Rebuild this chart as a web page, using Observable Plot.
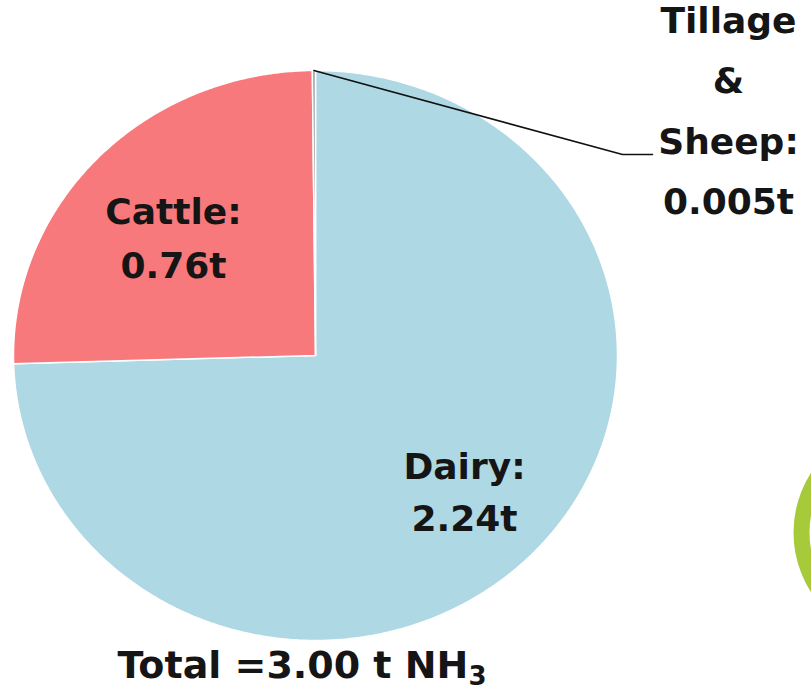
<!DOCTYPE html>
<html>
<head>
<meta charset="utf-8">
<script src="https://cdn.jsdelivr.net/npm/d3@7"></script>
<script src="https://cdn.jsdelivr.net/npm/@observablehq/plot@0.6"></script>
<style>
  html, body { margin: 0; padding: 0; background: #fff; overflow: hidden; }
  #chart svg { display: block; }
</style>
</head>
<body>
<div id="chart"></div>
<script>
// ---- data ----
const categories = ["Dairy", "Cattle", "Tillage & Sheep"];
const values = [2.24, 0.76, 0.005];
const valueLabels = ["2.24t", "0.76t", "0.005t"];
const sliceColors = ["#aed8e4", "#f8797c", "#a0a0a0"];
const totalLabel = "Total =3.00 t NH";
const totalSub = "3";

// ---- layout (pixels) ----
const W = 811, H = 693;
const pie = {cx: 315, cy: 355, rx: 302, ry: 285};
const font = "'DejaVu Sans', Verdana, sans-serif";
const labelPos = [
  {x: 464, y: 530, lh: 1.44},   // Dairy
  {x: 173, y: 277, lh: 1.5},    // Cattle
  {x: 728, y: 213, lh: 1.667}   // Tillage & Sheep
];
const leaderBend = [[622, 154], [652, 154]];
const ring = {x: 904, y: 532, r: 103, w: 16, color: "#a7ca3a"};

// ---- geometry from data ----
const arcs = d3.pie().sort(null).value(d => d)(values);
const pt = a => ({x: pie.cx + pie.rx * Math.sin(a), y: pie.cy - pie.ry * Math.cos(a)});
const slicePts = arcs.map((a, i) => {
  const pts = [{x: pie.cx, y: pie.cy, k: categories[i]}];
  const n = Math.max(2, Math.ceil((a.endAngle - a.startAngle) / (Math.PI / 360)));
  for (let j = 0; j <= n; j++) {
    const t = a.startAngle + (a.endAngle - a.startAngle) * j / n;
    pts.push({...pt(t), k: categories[i]});
  }
  pts.push({x: pie.cx, y: pie.cy, k: categories[i]});
  return pts;
});
const tillArc = arcs[2];
const leaderStart = pt((tillArc.startAngle + tillArc.endAngle) / 2);
const leader = [leaderStart, ...leaderBend.map(([x, y]) => ({x, y}))];

const labels = categories.map((c, i) => ({
  text: (i === 2 ? c.replace(/ /g, "\n") : c) + ":\n" + valueLabels[i],
  ...labelPos[i]
}));

const marks = [];
slicePts.forEach((pts, i) => {
  marks.push(Plot.line(pts, {x: "x", y: "y", fill: sliceColors[i], stroke: "white", strokeWidth: 1.5, strokeLinejoin: "round"}));
});
marks.push(Plot.line(leader, {x: "x", y: "y", stroke: "#111", strokeWidth: 1.6}));
labels.forEach(l => {
  marks.push(Plot.text([l], {x: "x", y: "y", text: "text", textAnchor: "middle", lineAnchor: "bottom",
    lineHeight: l.lh, fontSize: 36, fontWeight: "bold", fontFamily: font, fill: "#151515"}));
});
marks.push(Plot.text([{x: 117, y: 677}], {x: "x", y: "y", text: () => totalLabel, textAnchor: "start", lineAnchor: "bottom",
  fontSize: 38, fontWeight: "bold", fontFamily: font, fill: "#151515", className: "total-label"}));
marks.push(Plot.dot([ring], {x: "x", y: "y", r: ring.r, stroke: ring.color, strokeWidth: ring.w, fill: "none"}));

const chart = Plot.plot({
  width: W, height: H,
  margin: 0,
  x: {domain: [0, W], range: [0, W], axis: null},
  y: {domain: [0, H], range: [0, H], axis: null},
  style: {background: "white", overflow: "hidden"},
  marks
});
document.getElementById("chart").appendChild(chart);

// subscript for NH3
const t = chart.querySelector(".total-label text");
if (t) {
  const ts = document.createElementNS("http://www.w3.org/2000/svg", "tspan");
  ts.setAttribute("dy", "0.3em");
  ts.setAttribute("font-size", "26");
  ts.textContent = totalSub;
  t.appendChild(ts);
}
</script>
</body>
</html>
